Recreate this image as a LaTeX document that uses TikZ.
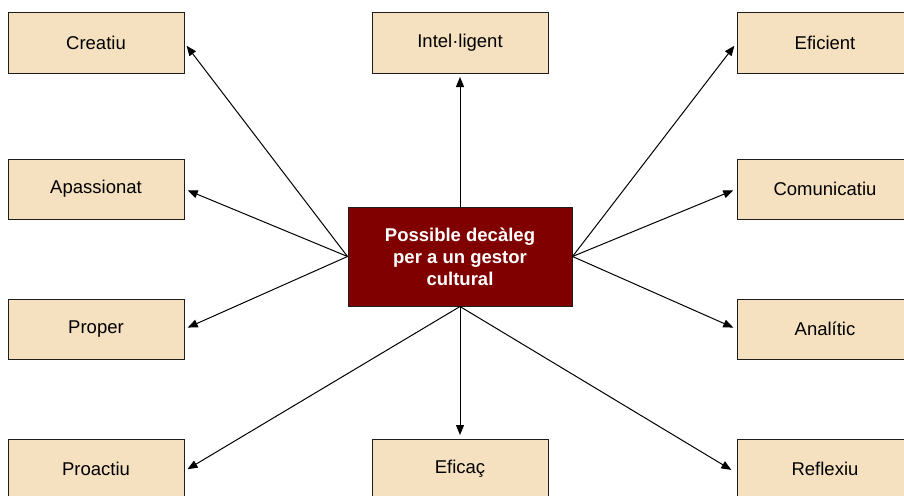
\documentclass[tikz,border=0pt]{standalone}
\usepackage{fontspec}
\setmainfont{Liberation Sans}
\usetikzlibrary{arrows.meta}
\definecolor{boxfill}{RGB}{245,224,192}
\definecolor{centerfill}{RGB}{128,0,0}
\definecolor{edgecol}{RGB}{30,30,30}
\tikzset{
  trait/.style={draw=edgecol, line width=1pt, fill=boxfill, minimum width=176pt, minimum height=60pt, inner sep=0pt, font=\fontsize{18.5}{22}\selectfont},
  core/.style={draw=edgecol, line width=1pt, fill=centerfill, minimum width=224pt, minimum height=99pt, inner sep=0pt, text=white, align=center, font=\fontsize{18.5}{22}\selectfont\bfseries},
  link/.style={line width=1pt, -{Triangle[length=10pt,width=8pt]}, shorten >=3.5pt}
}
\begin{document}
\begin{tikzpicture}[x=1pt,y=-1pt]
\useasboundingbox (0,0) rectangle (904,495);
\clip (0,0) rectangle (904,495);
\node[core] (c) at (460,256.5) {Possible decàleg\\per a un gestor\\cultural};
\node[trait] (creatiu) at (96,43) {Creatiu};
\node[trait] (intel) at (460,43) {Intel·ligent};
\node[trait] (eficient) at (825,43) {Eficient};
\node[trait] (apass) at (96,189) {Apassionat};
\node[trait] (comun) at (825,189) {Comunicatiu};
\node[trait] (proper) at (96,329) {Proper};
\node[trait] (anal) at (825,329) {Analític};
\node[trait] (proact) at (96,469) {Proactiu};
\node[trait] (eficac) at (460,469) {Eficaç};
\node[trait] (reflex) at (825,469) {Reflexiu};
\draw[link] (c.west) -- (creatiu.east);
\draw[link] (c.west) -- (apass.east);
\draw[link] (c.west) -- (proper.east);
\draw[link] (c.south) -- ([yshift=-2pt]proact.east);
\draw[link] (c.north) -- (intel.south);
\draw[link] (c.south) -- (eficac.north);
\draw[link] (c.east) -- (eficient.west);
\draw[link] (c.east) -- (comun.west);
\draw[link] (c.east) -- (anal.west);
\draw[link, shorten >=6pt] (c.south) -- ([yshift=-4pt]reflex.west);
\end{tikzpicture}
\end{document}
